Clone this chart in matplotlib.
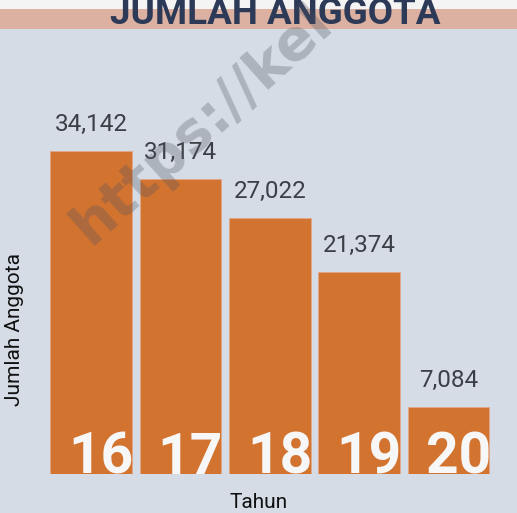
import matplotlib
matplotlib.use("Agg")
import matplotlib.pyplot as plt
from matplotlib.patches import Rectangle

# data
years = ["16", "17", "18", "19", "20"]
members = [34142, 31174, 27022, 21374, 7084]
value_labels = ["34,142", "31,174", "27,022", "21,374", "7,084"]

W, H = 517, 513
fig = plt.figure(figsize=(W / 100, H / 100), dpi=100)
fig.patch.set_facecolor("#d5dce6")

# header strips
fig.patches.append(Rectangle((0, 1 - 9 / H), 1, 9 / H, transform=fig.transFigure,
                             facecolor="#f4f4f4", edgecolor="none", zorder=0))
fig.patches.append(Rectangle((0, 1 - 29 / H), 1, 20 / H, transform=fig.transFigure,
                             facecolor="#dcb1a1", edgecolor="none", zorder=0))
fig.text(275 / W, 1 - 24 / H, "JUMLAH ANGGOTA", ha="center", va="baseline",
         fontsize=26.5, fontweight="bold", color="#2c3a57",
         family="Roboto", zorder=3)

# axes placed in pixels
left_px, right_px, top_px, bottom_px = 40, 505, 60, 474
ax = fig.add_axes([left_px / W, 1 - bottom_px / H, (right_px - left_px) / W,
                   (bottom_px - top_px) / H])
ax.set_facecolor("none")
pitch = 89.4
x0 = 91
ax.set_xlim(-(x0 - left_px) / pitch, (right_px - x0) / pitch)
ax.set_ylim(0, members[0] * (bottom_px - top_px) / (bottom_px - 151))
for s in ax.spines.values():
    s.set_visible(False)
ax.set_xticks([])
ax.set_yticks([])

bw = 0.912
xs = list(range(len(years)))
ax.bar(xs, members, width=bw, color="#d37330", edgecolor="#e2a687", linewidth=0.6)

for x, v, lab in zip(xs, members, value_labels):
    ax.annotate(lab, (x, v), xytext=(0, 15), textcoords="offset pixels",
                ha="center", va="bottom", fontsize=17.5, color="#3c3f45",
                family="Roboto")

for x, yr in zip(xs, years):
    ax.text(x + bw / 2 + 0.02, 0, yr, ha="right", va="baseline", fontsize=41,
            fontweight="bold", color="#f7f7f7", family="Roboto", clip_on=False)

fig.text(15 / W, 1 - 330 / H, "Jumlah Anggota", rotation=90, ha="center", va="center",
         fontsize=15, color="#111111", family="Roboto")
fig.text(259 / W, 1 - 502 / H, "Tahun", ha="center", va="center",
         fontsize=15, color="#111111", family="Roboto")

# watermark
fig.text(90 / W, 1 - 246 / H, "https://kel", rotation=42, rotation_mode="anchor",
         ha="left", va="baseline", fontsize=41, fontweight="bold", color="#50545e",
         alpha=0.3, family="DejaVu Sans", zorder=10)

fig.savefig("out.png", dpi=100, facecolor=fig.get_facecolor())
